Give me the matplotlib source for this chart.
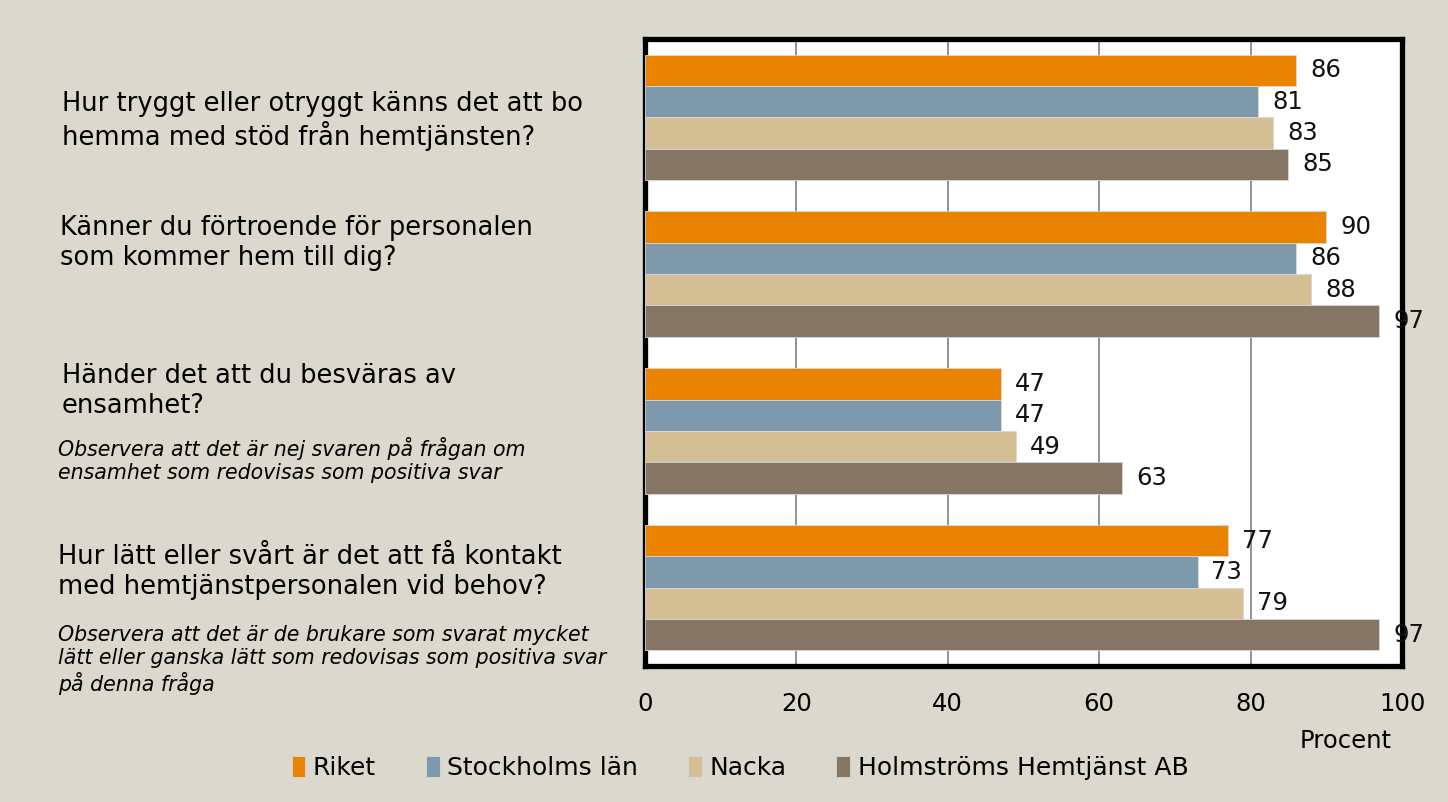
import matplotlib
matplotlib.use('Agg')
import matplotlib.pyplot as plt
import numpy as np

# data
questions = ['q1', 'q2', 'q3', 'q4']
series = ['Riket', 'Stockholms län', 'Nacka', 'Holmströms Hemtjänst AB']
riket = [86, 90, 47, 77]
stockholm = [81, 86, 47, 73]
nacka = [83, 88, 49, 79]
holmstrom = [85, 97, 63, 97]
xticks = [0, 20, 40, 60, 80, 100]

colors = ['#e98300', '#7d99ab', '#d4bf95', '#857564']
bg = '#dbd9cd'

W, H = 1448, 802
fig = plt.figure(figsize=(W / 100, H / 100), dpi=100, facecolor=bg)
ax = fig.add_axes([645 / W, 1 - 666 / H, (1402 - 645) / W, (666 - 39) / H])
ax.set_facecolor('white')

y = np.arange(len(questions))
h = 0.2
allvals = [riket, stockholm, nacka, holmstrom]
for i, (name, vals) in enumerate(zip(series, allvals)):
    pos = y - 0.3 + i * h
    bars = ax.barh(pos, vals, height=h, color=colors[i], label=name, zorder=3,
                   edgecolor='#d8d8d8', linewidth=0.6)
    for b, v in zip(bars, vals):
        ax.annotate(str(v), (v, b.get_y() + b.get_height() / 2), xytext=(10, 0),
                    textcoords='offset points', va='center', ha='left',
                    fontsize=17.5, color='#111111', clip_on=False, zorder=5)

ax.set_xlim(0, 100)
ax.set_ylim(3.5, -0.5)
ax.set_yticks([])
ax.set_xticks(xticks)
ax.tick_params(axis='x', length=0, pad=19, labelsize=17.5)
ax.grid(axis='x', color='#8a8a8a', linewidth=1.3, zorder=1)
for s in ax.spines.values():
    s.set_linewidth(3.8)
    s.set_color('black')

fig.text(1392 / W, 1 - 741 / H, 'Procent', ha='right', va='center', fontsize=17.5)


def ftext(x, yy, s, **kw):
    fig.text(x / W, 1 - yy / H, s, va='center', ha='left', **kw)


qsize = 18.5
nsize = 14.8
ftext(62, 121, 'Hur tryggt eller otryggt känns det att bo\nhemma med stöd från hemtjänsten?',
      fontsize=qsize, linespacing=1.2)
ftext(60, 243, 'Känner du förtroende för personalen\nsom kommer hem till dig?',
      fontsize=qsize, linespacing=1.2)
ftext(62, 391, 'Händer det att du besväras av\nensamhet?', fontsize=qsize, linespacing=1.2)
ftext(58, 460, 'Observera att det är nej svaren på frågan om\nensamhet som redovisas som positiva svar',
      fontsize=nsize, style='italic', linespacing=1.2)
ftext(58, 572, 'Hur lätt eller svårt är det att få kontakt\nmed hemtjänstpersonalen vid behov?',
      fontsize=qsize, linespacing=1.2)
ftext(58, 660, 'Observera att det är de brukare som svarat mycket\nlätt eller ganska lätt som redovisas som positiva svar\npå denna fråga',
      fontsize=nsize, style='italic', linespacing=1.2)

fig.legend(loc='center', bbox_to_anchor=(740 / W, 1 - 768 / H), ncol=4, frameon=False,
           fontsize=18, handlelength=0.55, handleheight=0.9, handletextpad=0.3,
           columnspacing=2.0, borderaxespad=0)

fig.savefig('out.png', dpi=100, facecolor=bg)
